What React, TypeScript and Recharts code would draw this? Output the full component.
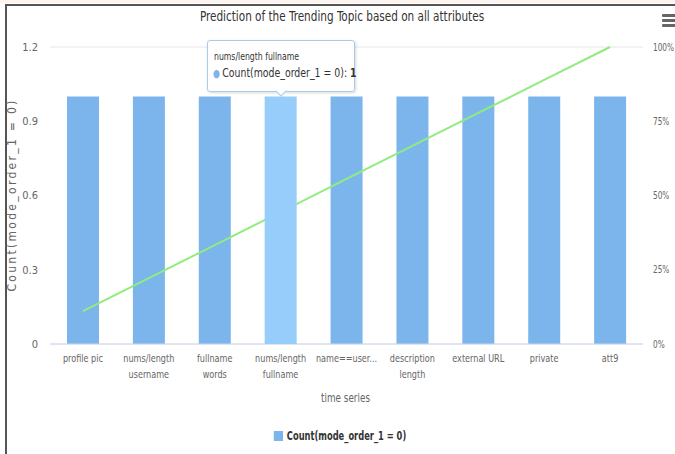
import React from 'react';
import {
  ComposedChart,
  Bar,
  Line,
  XAxis,
  YAxis,
  CartesianGrid,
  Tooltip,
  Legend,
} from 'recharts';

const categories = [
  'profile pic',
  'nums/length username',
  'fullname words',
  'nums/length fullname',
  'name==user...',
  'description length',
  'external URL',
  'private',
  'att9',
];
// axis labels, wrapped the way they show under each column
const tickLines = [
  ['profile pic'],
  ['nums/length', 'username'],
  ['fullname', 'words'],
  ['nums/length', 'fullname'],
  ['name==user...'],
  ['description', 'length'],
  ['external URL'],
  ['private'],
  ['att9'],
];
const counts = [1, 1, 1, 1, 1, 1, 1, 1, 1];
const cumulativePct = [11.1, 22.2, 33.3, 44.4, 55.6, 66.7, 77.8, 88.9, 100];
const countTicks = [0, 0.3, 0.6, 0.9, 1.2];
const pctTicks = [0, 25, 50, 75, 100];

const data = categories.map((name, i) => ({
  name,
  count: counts[i],
  pct: cumulativePct[i],
}));

const FONT = "'DejaVu Sans Condensed', 'DejaVu Sans', sans-serif";
const SERIES_NAME = 'Count(mode_order_1 = 0)';
// the theme font is a condensed face, squeeze the text horizontally
const SQUEEZE = 0.82;

const CategoryTick = ({ x, y, index }: any) => {
  const lines = tickLines[index] || [];
  return (
    <text
      transform={`translate(${x}, ${y}) scale(${SQUEEZE}, 1)`}
      textAnchor="middle"
      fill="#666"
      fontSize={11}
      fontFamily={FONT}
    >
      {lines.map((l, i) => (
        <tspan key={i} x={0} dy={i === 0 ? '0.71em' : 16}>
          {l}
        </tspan>
      ))}
    </text>
  );
};

const PctTick = ({ x, y, payload }: any) => (
  <text
    transform={`translate(${x}, ${y}) scale(0.78, 1)`}
    dy="0.355em"
    textAnchor="start"
    fill="#666"
    fontSize={10.5}
    fontFamily={FONT}
  >
    {`${payload.value}%`}
  </text>
);

const CountAxisLabel = ({ viewBox }: any) => {
  const cx = viewBox.x + 12;
  const cy = 195;
  return (
    <text
      x={cx}
      y={cy}
      transform={`rotate(-90, ${cx}, ${cy})`}
      textAnchor="middle"
      dominantBaseline="central"
      fill="#666"
      fontSize={12}
      letterSpacing={2.3}
      fontFamily={FONT}
    >
      {SERIES_NAME}
    </text>
  );
};

const SeriesTitle = ({ viewBox }: any) => {
  const cx = viewBox.x + viewBox.width / 2 - 1;
  const cy = viewBox.y + viewBox.height - 22;
  return (
    <text
      transform={`translate(${cx}, ${cy}) scale(${SQUEEZE}, 1)`}
      textAnchor="middle"
      fill="#666"
      fontSize={12}
      fontFamily={FONT}
    >
      time series
    </text>
  );
};

const CalloutTooltip = ({ active, payload, label }: any) => {
  if (!active || !payload || !payload.length) return null;
  const bar = payload.find((p: any) => p.dataKey === 'count');
  if (!bar) return null;
  return (
    <div style={{ position: 'relative', fontFamily: FONT }}>
      <div
        style={{
          width: 146,
          height: 50,
          background: 'rgba(255,255,255,0.92)',
          border: '1px solid #a8cbec',
          borderRadius: 3,
          boxShadow: '1px 1px 3px rgba(0,0,0,0.15)',
        }}
      >
        <div
          style={{
            position: 'absolute',
            left: 7,
            top: 10,
            fontSize: 10.5,
            color: '#333',
            whiteSpace: 'nowrap',
            transform: `scaleX(${SQUEEZE})`,
            transformOrigin: 'left center',
          }}
        >
          {label}
        </div>
        <div
          style={{
            position: 'absolute',
            left: 6,
            top: 25,
            fontSize: 13,
            color: '#333',
            whiteSpace: 'nowrap',
            transform: 'scaleX(0.8)',
            transformOrigin: 'left center',
          }}
        >
          <span style={{ color: '#7cb5ec', fontSize: 11, marginRight: 3 }}>●</span>
          {SERIES_NAME}: <b>{bar.value}</b>
        </div>
      </div>
      <div
        style={{
          position: 'absolute',
          left: 70,
          top: 47,
          width: 7,
          height: 7,
          background: '#fff',
          borderRight: '1px solid #a8cbec',
          borderBottom: '1px solid #a8cbec',
          transform: 'rotate(45deg)',
        }}
      />
    </div>
  );
};

const LegendContent = () => (
  <div style={{ display: 'flex', justifyContent: 'center', alignItems: 'center', height: 24 }}>
    <div
      style={{
        display: 'flex',
        alignItems: 'center',
        fontFamily: FONT,
        fontSize: 12,
        fontWeight: 'bold',
        color: '#333',
        transform: 'scaleX(0.77)',
        marginLeft: 4,
      }}
    >
      <span style={{ width: 12, height: 10, background: '#7cb5ec', marginRight: 5, display: 'inline-block' }} />
      {SERIES_NAME}
    </div>
  </div>
);

export default function App() {
  return (
    <div
      style={{
        position: 'absolute',
        left: 0,
        top: 0,
        width: 675,
        height: 454,
        background: '#fff',
        overflow: 'hidden',
      }}
    >
      {/* frame */}
      <div style={{ position: 'absolute', left: 0, top: 0, width: 675, height: 3, background: '#fdf3ef' }} />
      <div style={{ position: 'absolute', left: 5, top: 4, width: 670, height: 2, background: '#555' }} />
      <div style={{ position: 'absolute', left: 5, top: 4, width: 2, height: 450, background: '#555' }} />

      <div
        style={{
          position: 'absolute',
          left: 0,
          top: 8,
          width: 684,
          textAlign: 'center',
          fontFamily: FONT,
          fontSize: 14,
          color: '#333',
          transform: 'scaleX(0.83)',
        }}
      >
        Prediction of the Trending Topic based on all attributes
      </div>

      {/* export menu icon */}
      {[14, 19, 24].map((t) => (
        <div
          key={t}
          style={{ position: 'absolute', left: 662, top: t, width: 14, height: 3, borderRadius: 1, background: '#666' }}
        />
      ))}

      <div style={{ position: 'absolute', left: 0, top: 0 }}>
        <ComposedChart
          width={675}
          height={454}
          data={data}
          margin={{ top: 47, right: 0, bottom: 0, left: 0 }}
        >
          <CartesianGrid vertical={false} stroke="#e6e6e6" />
          <XAxis
            dataKey="name"
            height={80}
            axisLine={{ stroke: '#ccd6eb' }}
            tickLine={false}
            tickSize={0}
            tickMargin={10}
            interval={0}
            tick={<CategoryTick />}
            label={<SeriesTitle />}
          />
          <YAxis
            yAxisId="left"
            width={50}
            domain={[0, 1.2]}
            ticks={countTicks}
            axisLine={false}
            tickLine={false}
            tickSize={0}
            tickMargin={12}
            tick={{ fill: '#666', fontSize: 11, fontFamily: FONT }}
            label={<CountAxisLabel />}
          />
          <YAxis
            yAxisId="right"
            orientation="right"
            width={32}
            domain={[0, 100]}
            ticks={pctTicks}
            axisLine={false}
            tickLine={false}
            tickSize={0}
            tickMargin={10}
            tick={<PctTick />}
          />
          <Tooltip
            active
            defaultIndex={3}
            cursor={false}
            position={{ x: 207, y: 40 }}
            isAnimationActive={false}
            content={<CalloutTooltip />}
            wrapperStyle={{ outline: 'none' }}
          />
          <Legend verticalAlign="bottom" height={30} content={<LegendContent />} />
          <Bar
            yAxisId="left"
            dataKey="count"
            name={SERIES_NAME}
            fill="#7cb5ec"
            barSize={32}
            activeBar={{ fill: '#96cdfb' }}
            isAnimationActive={false}
          />
          <Line
            yAxisId="right"
            dataKey="pct"
            type="linear"
            stroke="#90ed7d"
            strokeWidth={2}
            dot={false}
            activeDot={false}
            legendType="none"
            isAnimationActive={false}
          />
        </ComposedChart>
      </div>
    </div>
  );
}
